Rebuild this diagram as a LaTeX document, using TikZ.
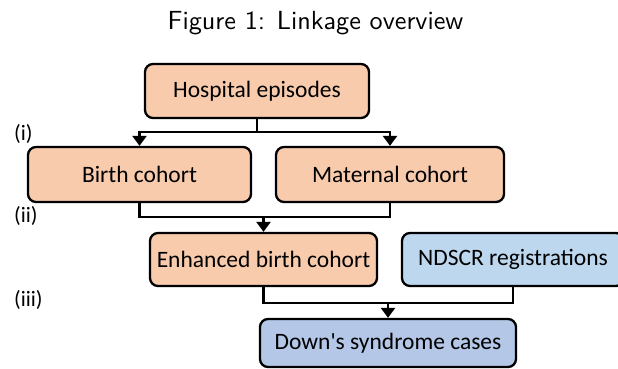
\documentclass[tikz,border=0pt]{standalone}
\usepackage{fontspec}
\newfontfamily\boxfont{Carlito}
\newfontfamily\titlefont[Extension=.otf]{lmsans10-regular}
\usetikzlibrary{arrows.meta}
\definecolor{peach}{HTML}{F8CBAD}
\definecolor{lightblue}{HTML}{BDD7EE}
\definecolor{midblue}{HTML}{B4C7E7}
\tikzset{
  box/.style={draw=black, line width=2.3pt, rounded corners=8pt, inner sep=0pt,
    font=\boxfont\fontsize{23.5}{28}\selectfont, text=black},
  conn/.style={draw=black, line width=2.5pt},
  arr/.style={conn, -{Triangle[width=14pt,length=10pt]}},
  steplabel/.style={anchor=west, inner sep=0pt, font=\boxfont\fontsize{22}{26}\selectfont},
}
\begin{document}
\begin{tikzpicture}[x=1pt,y=-1pt]
\useasboundingbox[fill=white] (0,0) rectangle (618,368);
\node[anchor=base, inner sep=0pt, font=\titlefont\fontsize{26.2}{30}\selectfont] (title) at (315.5,29) {Figure 1: Linkage overview};
\node[box, fill=peach, minimum width=224pt, minimum height=54pt] (hosp) at (257,91) {Hospital episodes};
\node[box, fill=peach, minimum width=223pt, minimum height=55pt] (birth) at (139.5,174.5) {Birth cohort};
\node[box, fill=peach, minimum width=228pt, minimum height=55pt] (mat) at (390,174.5) {Maternal cohort};
\node[box, fill=peach, minimum width=227pt, minimum height=53pt] (enh) at (263.5,259.5) {Enhanced birth cohort};
\node[box, fill=lightblue, minimum width=222pt, minimum height=53pt] (nd) at (513,259.5) {NDSCR registrations};
\node[box, fill=midblue, minimum width=256pt, minimum height=48pt] (down) at (388,343) {Down's syndrome cases};
\node[steplabel] (li) at (14,133.5) {(i)};
\node[steplabel] (lii) at (14,216) {(ii)};
\node[steplabel] (liii) at (14,300) {(iii)};
\coordinate (s1) at (257,132);
\coordinate (m2) at (263.5,217);
\coordinate (m3) at (388,303);
\draw[conn] (hosp.south) -- (s1);
\draw[arr] (s1) -| (birth.north);
\draw[arr] (s1) -| (mat.north);
\draw[conn] (birth.south) |- (m2) -| (mat.south);
\draw[arr] (m2) -- (enh.north);
\draw[conn] (enh.south) |- (m3) -| (nd.south);
\draw[arr] (m3) -- (down.north);
\end{tikzpicture}
\end{document}
